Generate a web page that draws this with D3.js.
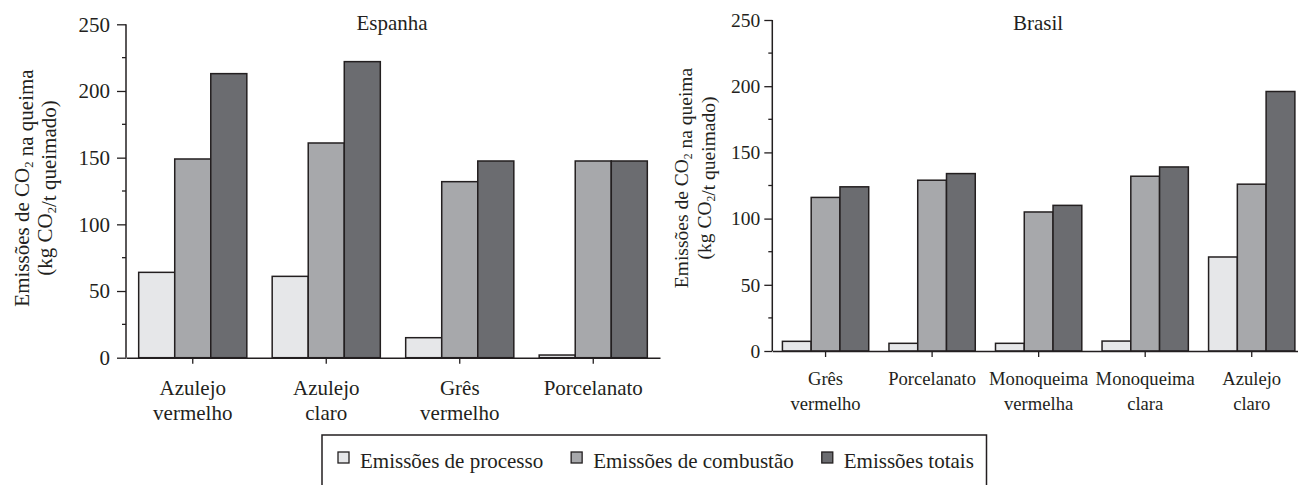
<!DOCTYPE html>
<html>
<head>
<meta charset="utf-8">
<script src="https://cdn.jsdelivr.net/npm/d3@7/dist/d3.min.js"></script>
<style>
  body { margin: 0; background: #fff; }
  svg { display: block; font-family: "Liberation Serif", "Times New Roman", serif; }
</style>
</head>
<body>
<script>
// series + categories
var series = ['Emissões de processo', 'Emissões de combustão', 'Emissões totais'];
var colors = ['#e6e7e9', '#a7a8ab', '#6b6c70'];

var spainCats = [['Azulejo', 'vermelho'], ['Azulejo', 'claro'], ['Grês', 'vermelho'], ['Porcelanato']];
var spainProcesso = [64, 61, 15, 2];
var spainCombustao = [149, 161, 132, 147.5];
var spainTotais = [213, 222, 147.5, 147.5];

var brasilCats = [['Grês', 'vermelho'], ['Porcelanato'], ['Monoqueima', 'vermelha'], ['Monoqueima', 'clara'], ['Azulejo', 'claro']];
var brasilProcesso = [7.3, 5.8, 5.8, 7.5, 71];
var brasilCombustao = [116, 129, 105, 132, 126];
var brasilTotais = [124, 134, 110, 139, 196];

var yTicks = [0, 50, 100, 150, 200, 250];

var W = 1298, H = 485;
var svg = d3.select('body').append('svg').attr('width', W).attr('height', H);

// draws one panel
function panel(opt) {
	var cats = opt.cats.map(function(c) { return c.join(' '); });
	var vals = [opt.processo, opt.combustao, opt.totais];

	var x0 = d3.scaleBand().domain(cats).range([opt.left, opt.right])
		.paddingInner(0.19).paddingOuter(0.095);
	var x1 = d3.scaleBand().domain(series).range([0, x0.bandwidth()]);
	var y = d3.scaleLinear().domain([0, 250]).range([opt.bottom, opt.top]);

	var g = svg.append('g');

	// bars
	var groups = g.selectAll('.grp').data(cats).enter().append('g')
		.attr('transform', function(d) { return 'translate(' + x0(d) + ',0)'; });
	groups.selectAll('rect')
		.data(function(d, i) { return series.map(function(s, j) { return {s: s, v: vals[j][i], j: j}; }); })
		.enter().append('rect')
		.attr('x', function(d) { return x1(d.s); })
		.attr('width', x1.bandwidth())
		.attr('y', function(d) { return y(d.v); })
		.attr('height', function(d) { return y(0) - y(d.v); })
		.attr('fill', function(d) { return colors[d.j]; })
		.attr('stroke', '#231f20')
		.attr('stroke-width', 1.5);

	// y axis : labels every 50, small minor ticks in between
	var minor = d3.range(0, 251, 25).filter(function(v) { return v % 50 !== 0; });
	var ya = g.append('g').attr('transform', 'translate(' + opt.left + ',0)');
	ya.call(d3.axisLeft(y).tickValues(yTicks).tickSize(opt.tick).tickPadding(opt.pad).tickSizeOuter(0));
	minor.forEach(function(v) {
		ya.append('line').attr('x1', -4).attr('x2', 0).attr('y1', y(v)).attr('y2', y(v))
			.attr('stroke', '#231f20').attr('stroke-width', 1.3);
	});
	ya.select('.domain').attr('stroke', '#231f20').attr('stroke-width', 1.5)
		.attr('d', 'M0,' + y(0) + 'V' + y(250));
	ya.selectAll('.tick line').attr('stroke', '#231f20').attr('stroke-width', 1.3);
	ya.selectAll('.tick text').attr('fill', '#231f20')
		.style('font-family', '"Liberation Serif", serif').style('font-size', opt.tickFont + 'px');

	// x axis
	var xa = g.append('g').attr('transform', 'translate(0,' + y(0) + ')');
	xa.call(d3.axisBottom(x0).tickSize(6).tickSizeOuter(0).tickFormat(''));
	xa.select('.domain').attr('stroke', '#231f20').attr('stroke-width', 1.5);
	xa.selectAll('.tick line').attr('stroke', '#231f20').attr('stroke-width', 1.3);

	// category labels (two lines)
	opt.cats.forEach(function(c, i) {
		var t = g.append('text')
			.attr('x', x0(cats[i]) + x0.bandwidth() / 2)
			.attr('y', y(0) + opt.lab1)
			.attr('text-anchor', 'middle')
			.attr('fill', '#231f20')
			.style('font-size', opt.labFont + 'px');
		c.forEach(function(line, k) {
			t.append('tspan').attr('x', x0(cats[i]) + x0.bandwidth() / 2)
				.attr('dy', k === 0 ? 0 : opt.lineH).text(line);
		});
	});

	// title
	g.append('text').attr('x', opt.titleX).attr('y', 30).attr('text-anchor', 'middle')
		.attr('fill', '#231f20').style('font-size', '21px').text(opt.title);

	// y title, rotated, with CO2 subscripts
	var yt = g.append('g').attr('transform', 'translate(' + opt.ytX + ',' + opt.titleY + ') rotate(-90)');
	function line(parts, yy) {
		var t = yt.append('text').attr('x', 0).attr('y', yy).attr('text-anchor', 'middle')
			.attr('fill', '#231f20').style('font-size', opt.ytFont + 'px');
		parts.forEach(function(p) {
			if (p === '2') {
				t.append('tspan').attr('dy', '0.3em').style('font-size', (opt.ytFont * 0.6) + 'px').text('2');
				t.append('tspan').attr('dy', '-0.18em').text('');
			} else {
				t.append('tspan').text(p);
			}
		});
	}
	line(['Emissões de CO', '2', ' na queima'], 0);
	line(['(kg CO', '2', '/t queimado)'], opt.ytGap);
}

panel({
	title: 'Espanha', titleX: 392,
	cats: spainCats, processo: spainProcesso, combustao: spainCombustao, totais: spainTotais,
	left: 126, right: 660, top: 24.3, bottom: 357.7,
	tick: 9, pad: 7, tickFont: 21, labFont: 21, lab1: 37, lineH: 25.7,
	ytX: 29, titleY: 188, ytFont: 21, ytGap: 23
});

panel({
	title: 'Brasil', titleX: 1038,
	cats: brasilCats, processo: brasilProcesso, combustao: brasilCombustao, totais: brasilTotais,
	left: 772.3, right: 1305, top: 20, bottom: 351,
	tick: 8, pad: 4, tickFont: 19.5, labFont: 18.6, lab1: 34, lineH: 25,
	ytX: 688, titleY: 178, ytFont: 19.5, ytGap: 23
});

// legend box (bottom edge falls outside the frame)
var lg = svg.append('g');
lg.append('path').attr('d', 'M322,' + (H + 5) + 'V435H986.5V' + (H + 5))
	.attr('fill', 'none').attr('stroke', '#231f20').attr('stroke-width', 1.5);
var lx = 338;
series.forEach(function(s, i) {
	lg.append('rect').attr('x', lx).attr('y', 452).attr('width', 11).attr('height', 11)
		.attr('fill', colors[i]).attr('stroke', '#231f20').attr('stroke-width', 1.3);
	var t = lg.append('text').attr('x', lx + 22).attr('y', 468).attr('fill', '#231f20')
		.style('font-size', '21px').text(s);
	lx += 22 + t.node().getComputedTextLength() + 28;
});
</script>
</body>
</html>
